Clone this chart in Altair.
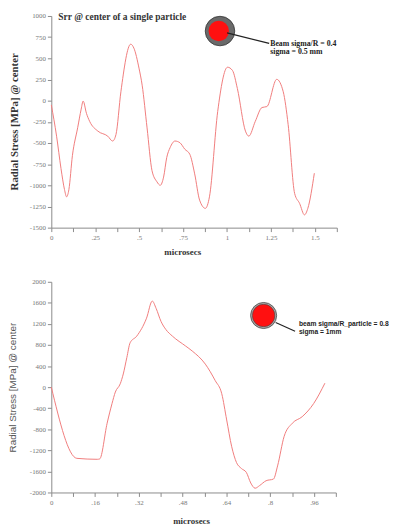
import altair as alt
import pandas as pd

# ---- data ----
top_t = [0.0, 0.03, 0.055, 0.075, 0.087, 0.1, 0.12, 0.15, 0.17, 0.181, 0.2, 0.218, 0.265,
         0.321, 0.349, 0.368, 0.396, 0.452, 0.47, 0.499, 0.517, 0.545, 0.573, 0.601, 0.62,
         0.639, 0.657, 0.676, 0.704, 0.732, 0.76, 0.788, 0.816, 0.844, 0.877, 0.9, 0.947,
         1.003, 1.031, 1.059, 1.105, 1.124, 1.161, 1.199, 1.227, 1.283, 1.32, 1.348, 1.385,
         1.413, 1.441, 1.46, 1.497]
top_stress = [-50, -420, -800, -1050, -1136, -1050, -650, -320, -100, -5, -150, -244, -360,
              -419, -477, -400, 105, 667, 620, 384, 183, -322, -826, -958, -1000,
              -903, -671, -555, -477, -497, -574, -632, -865, -1175, -1272, -1136, -128,
              395, 357, 143, -360, -419, -244, -81, -70, 252, 105, -283, -1097,
              -1213, -1349, -1272, -857]

bot_t = [0.0, 0.0935, 0.168, 0.177, 0.204, 0.222, 0.234, 0.252, 0.263, 0.276, 0.288, 0.312,
         0.348, 0.369, 0.383, 0.401, 0.419, 0.443, 0.491, 0.515, 0.563, 0.599, 0.623, 0.641,
         0.659, 0.677, 0.695, 0.713, 0.729, 0.745, 0.761, 0.785, 0.812, 0.827, 0.851, 0.881,
         0.917, 0.959, 1.0]
bot_stress = [0, -1352, -1370, -1362, -685, -310, -93, 64, 250, 561, 842, 967,
              1309, 1634, 1496, 1247, 1092, 967, 780, 686, 437, 125, -125, -623,
              -1122, -1433, -1545, -1620, -1820, -1919, -1870, -1777, -1745, -1496, -935, -685,
              -561, -311, 75]

top_x_ticks = [0, 0.125, 0.25, 0.375, 0.5, 0.625, 0.75, 0.875, 1.0, 1.125, 1.25, 1.375, 1.5, 1.625]
top_y_ticks = [-1500, -1250, -1000, -750, -500, -250, 0, 250, 500, 750, 1000]
bot_x_ticks = [0, 0.08, 0.16, 0.24, 0.32, 0.4, 0.48, 0.56, 0.64, 0.72, 0.8, 0.88, 0.96, 1.04]
bot_y_ticks = [-2000, -1600, -1200, -800, -400, 0, 400, 800, 1200, 1600, 2000]

top_title = "Srr @ center of a single particle"
y_title = "Radial Stress [MPa] @ center"
x_title = "microsecs"
top_note = ["Beam sigma/R = 0.4", "sigma = 0.5 mm"]
bot_note = ["beam sigma/R_particle = 0.8", "sigma = 1mm"]

LINE = "#f07c7c"
SERIF = "Liberation Serif"
SANS = "Liberation Sans"
AX = "#8a8a8a"

top_df = pd.DataFrame({"t": top_t, "s": top_stress})
bot_df = pd.DataFrame({"t": bot_t, "s": bot_stress})
one = pd.DataFrame({"k": [0]})

top_x_expr = ("abs(datum.value*4 - round(datum.value*4)) < 1e-6 ? "
              "replace(toString(datum.value), '0.', '.') : ''")
bot_x_expr = ("abs(datum.value/0.16 - round(datum.value/0.16)) < 1e-6 ? "
              "replace(toString(datum.value), '0.', '.') : ''")

common_axis = dict(grid=False, domainColor=AX, tickColor=AX, tickSize=4, tickCount=40,
                   labelFont=SERIF, labelFontSize=7, labelColor="#777", labelPadding=2,
                   labelOverlap=False, labelFlush=False)


def x_axis(values, expr, tx, ty):
    return alt.Axis(values=values, labelExpr=expr, title=x_title, titleFont=SERIF,
                    titleFontSize=9, titleFontWeight="bold", titleColor="#333",
                    titleX=tx, titleY=ty, titleAlign="center", titleBaseline="middle",
                    **common_axis)


def y_axis(values, tx, ty, font, weight, color, size):
    return alt.Axis(values=values, labelExpr="toString(datum.value)", title=y_title,
                    titleFont=font, titleFontSize=size, titleFontWeight=weight,
                    titleColor=color, titleX=tx, titleY=ty, titleAlign="center",
                    titleBaseline="middle", titleAngle=270, **common_axis)


# ---- top chart ----
tx_scale = alt.Scale(domain=[0, 1.625], nice=False, zero=False)
ty_scale = alt.Scale(domain=[-1500, 1000], nice=False)

top_line = alt.Chart(top_df).mark_line(color=LINE, strokeWidth=1, interpolate="monotone").encode(
    x=alt.X("t:Q", scale=tx_scale, axis=x_axis(top_x_ticks, top_x_expr, 133, 24)),
    y=alt.Y("s:Q", scale=ty_scale, axis=y_axis(top_y_ticks, -37, 107, SERIF, "bold", "#333", 11)),
)

top_title_mark = alt.Chart(one).mark_text(
    text=top_title, font=SERIF, fontWeight="bold", fontSize=9.6, align="left",
    baseline="middle", color="#333"
).encode(x=alt.datum(0.04), y=alt.datum(985))

top_outer = alt.Chart(one).mark_circle(
    size=900, color="#6a6a6a", opacity=1, stroke="#333", strokeWidth=0.8
).encode(x=alt.datum(0.96), y=alt.datum(822))
top_inner = alt.Chart(one).mark_circle(
    size=430, color="#ff1010", opacity=1
).encode(x=alt.datum(0.953), y=alt.datum(822))
top_rule = alt.Chart(one).mark_rule(color="#222", strokeWidth=1.2).encode(
    x=alt.datum(1.0), y=alt.datum(800), x2=alt.datum(1.24), y2=alt.datum(676))
top_text1 = alt.Chart(one).mark_text(
    text=top_note[0], font=SERIF, fontWeight="bold", fontSize=7.9, align="left",
    baseline="middle", color="#222").encode(x=alt.datum(1.246), y=alt.datum(674))
top_text2 = alt.Chart(one).mark_text(
    text=top_note[1], font=SERIF, fontWeight="bold", fontSize=7.9, align="left",
    baseline="middle", color="#222").encode(x=alt.datum(1.246), y=alt.datum(572))

top = alt.layer(top_line, top_title_mark, top_outer, top_inner, top_rule, top_text1,
                top_text2).properties(width=290, height=215)

# ---- bottom chart ----
bx_scale = alt.Scale(domain=[0, 1.04], nice=False, zero=False)
by_scale = alt.Scale(domain=[-2000, 2000], nice=False)

bot_line = alt.Chart(bot_df).mark_line(color=LINE, strokeWidth=1, interpolate="monotone").encode(
    x=alt.X("t:Q", scale=bx_scale, axis=x_axis(bot_x_ticks, bot_x_expr, 142, 29)),
    y=alt.Y("s:Q", scale=by_scale, axis=y_axis(bot_y_ticks, -39, 107, SANS, "normal", "#555", 10)),
)

bot_outer = alt.Chart(one).mark_circle(
    size=700, color="#a8a8a8", opacity=1, stroke="#444", strokeWidth=0.8
).encode(x=alt.datum(0.776), y=alt.datum(1360))
bot_inner = alt.Chart(one).mark_circle(
    size=520, color="#ff1010", opacity=1, stroke="#444", strokeWidth=0.6
).encode(x=alt.datum(0.776), y=alt.datum(1360))
bot_rule = alt.Chart(one).mark_rule(color="#222", strokeWidth=1.2).encode(
    x=alt.datum(0.82), y=alt.datum(1227), x2=alt.datum(0.891), y2=alt.datum(1060))
bot_text1 = alt.Chart(one).mark_text(
    text=bot_note[0], font=SANS, fontWeight="bold", fontSize=6.8, align="left",
    baseline="middle", color="#222").encode(x=alt.datum(0.905), y=alt.datum(1204))
bot_text2 = alt.Chart(one).mark_text(
    text=bot_note[1], font=SANS, fontWeight="bold", fontSize=6.8, align="left",
    baseline="middle", color="#222").encode(x=alt.datum(0.905), y=alt.datum(1047))

bottom = alt.layer(bot_line, bot_outer, bot_inner, bot_rule, bot_text1,
                   bot_text2).properties(width=289, height=214)

chart = alt.vconcat(top, bottom, spacing=22).properties(
    padding={"left": 0, "top": 0, "right": 0, "bottom": 0}
).configure_view(stroke=None).configure_axis(labelOverlap=False)

chart.save("out.html", embed_options={"renderer": "svg", "actions": False})
